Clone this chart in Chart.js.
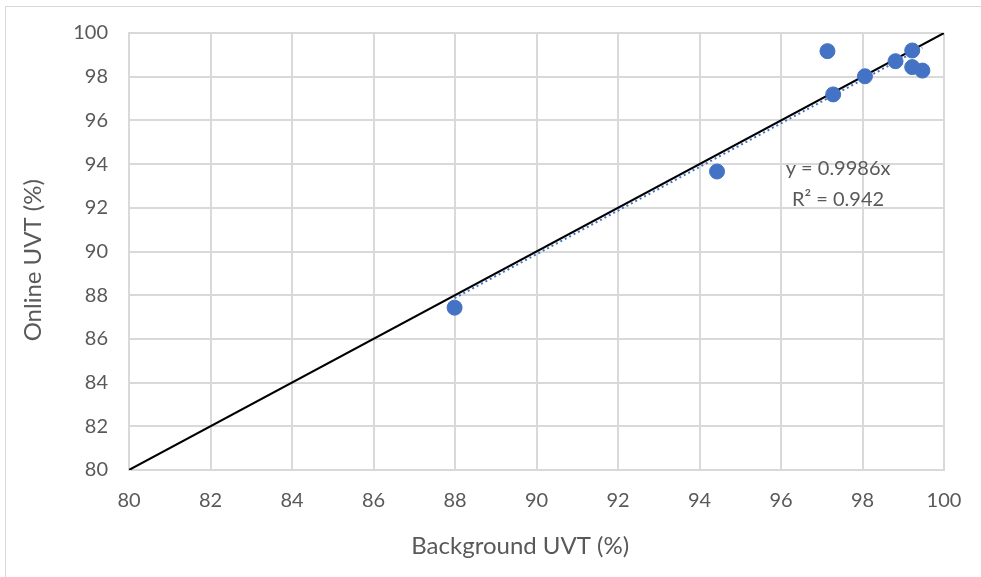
<!DOCTYPE html>
<html>
<head>
<meta charset="utf-8">
<script src="https://cdn.jsdelivr.net/npm/chart.js@4/dist/chart.umd.min.js"></script>
<style>
html,body{margin:0;padding:0;background:#fff;}
#wrap{width:981px;height:577px;position:relative;}
canvas{display:block;}
</style>
</head>
<body>
<div id="wrap"><canvas id="c" width="981" height="577"></canvas></div>
<script>
// Data
const backgroundUVT = [87.99, 94.43, 97.14, 97.28, 98.06, 98.81, 99.22, 99.22, 99.47];
const onlineUVT     = [87.43, 93.66, 99.17, 97.19, 98.02, 98.71, 99.20, 98.44, 98.28];
const trendSlope = 0.9986;
const trendLabel = ["y = 0.9986x", "R\u00b2 = 0.942"];
const axisMin = 80, axisMax = 100, axisStep = 2;
const xTitle = "Background UVT (%)";
const yTitle = "Online UVT (%)";

const points = backgroundUVT.map((x, i) => ({x: x, y: onlineUVT[i]}));
const xMinData = Math.min(...backgroundUVT), xMaxData = Math.max(...backgroundUVT);
const trendPts = [{x: xMinData, y: trendSlope * xMinData}, {x: xMaxData, y: trendSlope * xMaxData}];
const identityPts = [{x: axisMin, y: axisMin}, {x: axisMax, y: axisMax}];

const FONT = "Lato, 'Open Sans', sans-serif";
const GREY = "#595959";

const borderPlugin = {
  id: 'frame',
  beforeDraw(chart) {
    const ctx = chart.ctx;
    ctx.save();
    ctx.fillStyle = '#fff';
    ctx.fillRect(0, 0, chart.width, chart.height);
    ctx.strokeStyle = '#d9d9d9';
    ctx.lineWidth = 1;
    ctx.strokeRect(5.5, 6.5, 1000, 1000);
    ctx.restore();
  },
  afterDraw(chart) {
    const ctx = chart.ctx;
    const xs = chart.scales.x, ys = chart.scales.y;
    ctx.save();
    ctx.fillStyle = GREY;
    ctx.textAlign = 'center';
    ctx.textBaseline = 'middle';
    ctx.font = "20px " + FONT;
    ctx.fillText(trendLabel[0], xs.getPixelForValue(97.4), ys.getPixelForValue(93.8));
    ctx.fillText(trendLabel[1], xs.getPixelForValue(97.4), ys.getPixelForValue(92.4));
    // axis titles
    ctx.font = "24px " + FONT;
    ctx.fillText(xTitle, xs.getPixelForValue(89.6), 546);
    ctx.translate(33, ys.getPixelForValue(89.6));
    ctx.rotate(-Math.PI / 2);
    ctx.fillText(yTitle, 0, 0);
    ctx.restore();
  }
};

new Chart(document.getElementById('c'), {
  type: 'scatter',
  data: {
    datasets: [
      {
        label: 'identity',
        type: 'line',
        data: identityPts,
        borderColor: '#000000',
        borderWidth: 2,
        pointRadius: 0,
        fill: false,
        order: 3
      },
      {
        label: 'trend',
        type: 'line',
        data: trendPts,
        borderColor: '#4472c4',
        borderWidth: 2,
        borderDash: [2, 3],
        pointRadius: 0,
        fill: false,
        order: 2
      },
      {
        label: 'data',
        data: points,
        backgroundColor: '#4472c4',
        borderColor: '#4472c4',
        pointRadius: 7.5,
        pointHoverRadius: 7.5,
        order: 1
      }
    ]
  },
  options: {
    responsive: false,
    animation: false,
    events: [],
    layout: { padding: { left: 0, top: 32, right: 37, bottom: 0 } },
    plugins: { legend: { display: false }, tooltip: { enabled: false } },
    scales: {
      x: {
        type: 'linear',
        min: axisMin, max: axisMax,
        ticks: { stepSize: axisStep, color: GREY, font: { family: FONT, size: 20 }, padding: 19 },
        grid: { color: '#d9d9d9', lineWidth: 2, drawTicks: false },
        border: { color: '#d9d9d9', width: 2 },
        title: { display: false, text: xTitle },
        afterFit(s) { s.height = 107; }
      },
      y: {
        type: 'linear',
        min: axisMin, max: axisMax,
        ticks: { stepSize: axisStep, color: GREY, font: { family: FONT, size: 20 }, padding: 21 },
        grid: { color: '#d9d9d9', lineWidth: 2, drawTicks: false },
        border: { color: '#d9d9d9', width: 2 },
        title: { display: false, text: yTitle },
        afterFit(s) { s.width = 129; }
      }
    }
  },
  plugins: [borderPlugin]
});
</script>
</body>
</html>
